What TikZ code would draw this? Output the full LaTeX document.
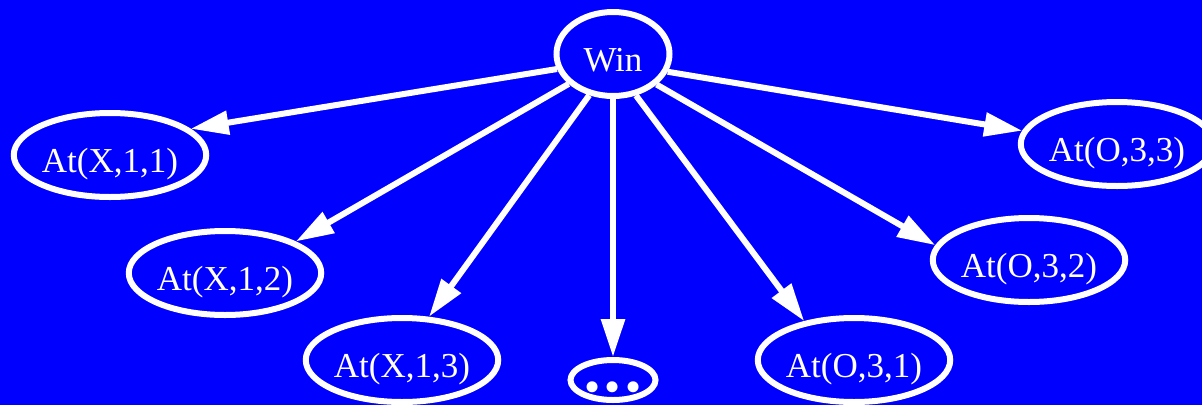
\documentclass[tikz,border=0pt]{standalone}
\usepackage{fontspec}
\setmainfont{Liberation Serif}
\usetikzlibrary{shapes.geometric,arrows.meta}
\definecolor{bgblue}{RGB}{0,0,255}
\tikzset{
  nd/.style={ellipse, draw=white, line width=6pt, text=white, inner sep=0pt,
    minimum width=189pt, minimum height=84pt, text height=40pt, text depth=5pt,
    font=\fontsize{35pt}{40pt}\selectfont},
  edge/.style={draw=white, line width=6pt, -{Triangle[length=38pt,width=23pt]}}
}
\begin{document}
\begin{tikzpicture}[x=1pt,y=-1pt]
\useasboundingbox (0,0) rectangle (1202,405);
\fill[bgblue] (0,0) rectangle (1202,405);
\clip (0,0) rectangle (1202,405);
\node[nd, minimum width=113pt, minimum height=84pt] (win) at (613,54) {Win};
\node[nd] (x11) at (110,155) {At(X,1,1)};
\node[nd] (x12) at (225,273) {At(X,1,2)};
\node[nd] (x13) at (402,360) {At(X,1,3)};
\node[nd, minimum width=85pt, minimum height=40pt, text height=, text depth=] (dots) at (613,380) {\raisebox{-22pt}[0pt][0pt]{\fontsize{46pt}{50pt}\selectfont •\hspace{4.5pt}•\hspace{4.5pt}•}};
\node[nd] (o31) at (854,360) {At(O,3,1)};
\node[nd] (o32) at (1029,260) {At(O,3,2)};
\node[nd] (o33) at (1117,144) {At(O,3,3)};
\draw[edge] (win.195) -- (x11.18);
\draw[edge] (win.214) -- (x12.24);
\draw[edge] (win.240) -- (x13.58);
\draw[edge] (win.270) -- (dots.90);
\draw[edge] (win.299) -- (o31.142);
\draw[edge] (win.325) -- (o32.171);
\draw[edge] (win.342) -- (o33.172);
\end{tikzpicture}
\end{document}
